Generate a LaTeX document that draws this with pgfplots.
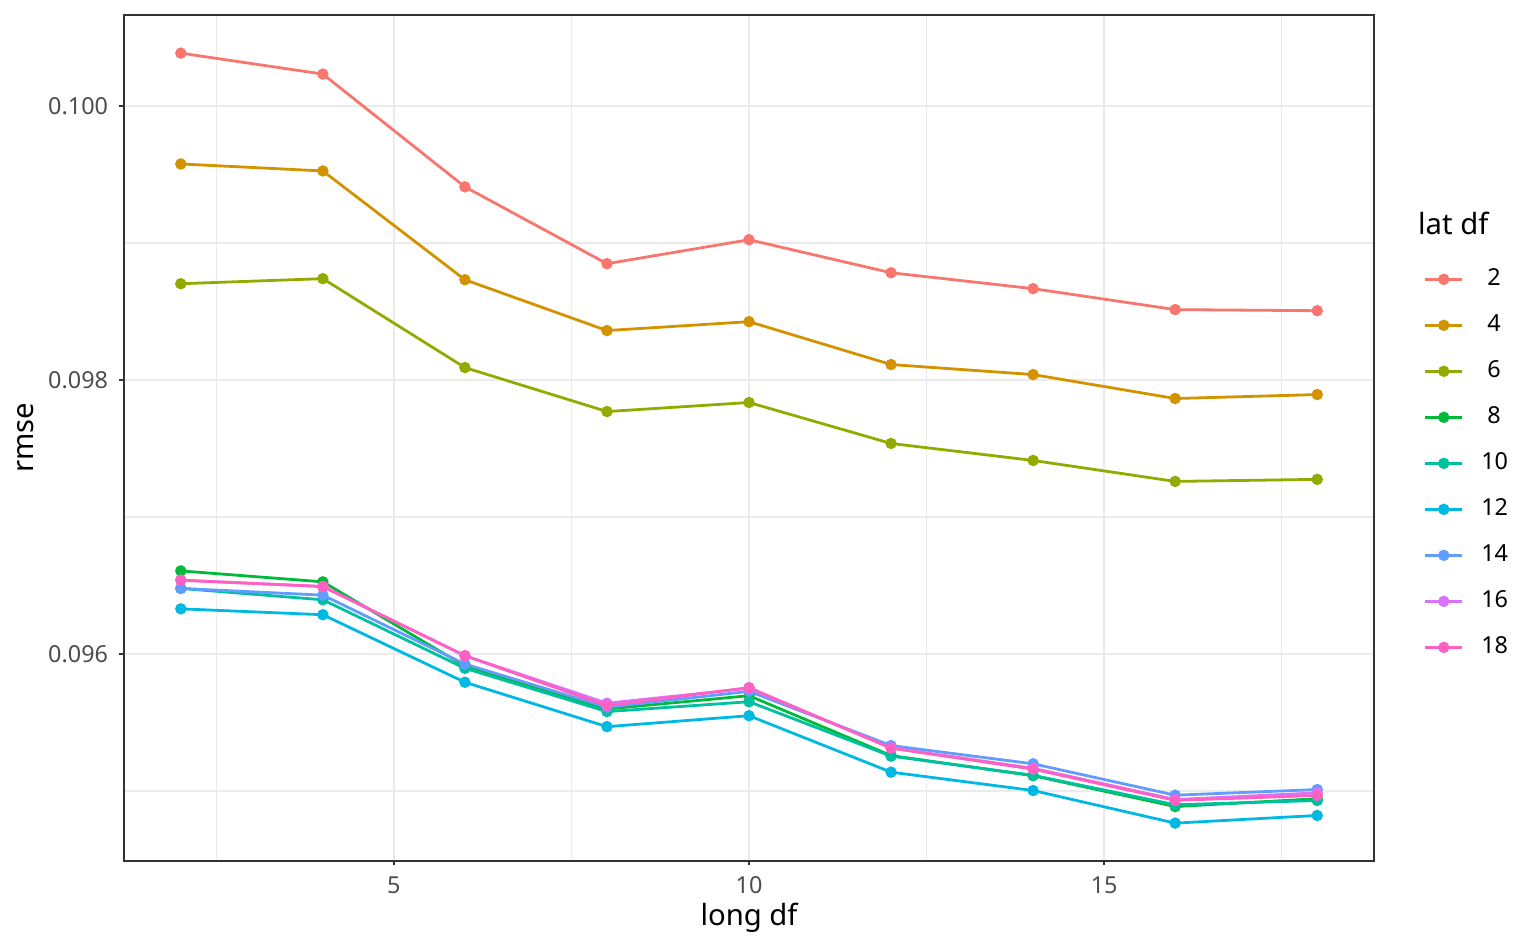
\documentclass[border=0pt]{standalone}
\usepackage{pgfplots}
\pgfplotsset{compat=1.18}
\usepackage{pgfplotstable}
\usepackage{fontspec}
\setmainfont{Noto Sans}
\definecolor{c2}{HTML}{F8766D}
\definecolor{c4}{HTML}{D39200}
\definecolor{c6}{HTML}{93AA00}
\definecolor{c8}{HTML}{00BA38}
\definecolor{c10}{HTML}{00C19F}
\definecolor{c12}{HTML}{00B9E3}
\definecolor{c14}{HTML}{619CFF}
\definecolor{c16}{HTML}{DB72FB}
\definecolor{c18}{HTML}{FF61C3}
\definecolor{grid}{HTML}{EBEBEB}
\definecolor{g20}{HTML}{333333}
\definecolor{g30}{HTML}{4D4D4D}
\pgfplotstableread{
x  l2       l4       l6       l8       l10      l12      l14      l16      l18
2  0.100386 0.099577 0.098703 0.096607 0.096479 0.096330 0.096479 0.096539 0.096539
4  0.100233 0.099526 0.098740 0.096527 0.096396 0.096287 0.096430 0.096493 0.096493
6  0.099410 0.098732 0.098091 0.095912 0.095896 0.095794 0.095927 0.095988 0.095988
8  0.098849 0.098361 0.097770 0.095599 0.095580 0.095470 0.095612 0.095641 0.095623
10 0.099024 0.098426 0.097836 0.095696 0.095652 0.095550 0.095728 0.095750 0.095755
12 0.098783 0.098113 0.097537 0.095259 0.095255 0.095138 0.095332 0.095316 0.095313
14 0.098667 0.098040 0.097413 0.095112 0.095115 0.095004 0.095199 0.095166 0.095160
16 0.098514 0.097865 0.097260 0.094887 0.094900 0.094766 0.094970 0.094938 0.094932
18 0.098506 0.097894 0.097275 0.094944 0.094931 0.094822 0.095011 0.094987 0.094968
}\datatable
\begin{document}
\begin{tikzpicture}
\path[use as bounding box] (-46.62pt,-33.09pt) rectangle (530.9pt,323.7pt);
\begin{axis}[
  at={(0pt,0pt)}, anchor=south west,
  scale only axis, width=470pt, height=318.1pt,
  xmin=1.2, xmax=18.8, ymin=0.09449, ymax=0.100665,
  xtick={5,10,15}, minor xtick={2.5,7.5,12.5,17.5},
  ytick={0.096,0.098,0.100}, minor ytick={0.095,0.097,0.099},
  scaled y ticks=false,
  /pgf/number format/assume math mode=true,
  yticklabel style={/pgf/number format/fixed, /pgf/number format/fixed zerofill, /pgf/number format/precision=3},
  grid=both,
  major grid style={draw=grid, line width=0.85pt},
  minor grid style={draw=grid, line width=0.45pt},
  axis line style={draw=g20, line width=0.5pt},
  tick align=outside, tick pos=left,
  major tick length=1.7pt, minor tick length=0pt,
  tick style={draw=g20, line width=0.5pt},
  ticklabel style={font=\fontsize{8.8}{10}\selectfont, text=g30, inner sep=0pt},
  xticklabel style={anchor=north, yshift=-3.9pt},
  yticklabel style={anchor=east, xshift=-4.1pt},
  xlabel={long df}, ylabel={rmse},
  label style={font=\fontsize{11}{13}\selectfont, inner sep=0pt},
  xlabel style={at={(axis description cs:0.5,-0.07639)}, anchor=base},
  ylabel style={at={(axis description cs:-0.07277,0.5)}, anchor=base},
  every axis plot/.append style={line width=1.05pt, mark=*, mark size=1.6pt},
  legend image code/.code={\draw[mark repeat=2,mark phase=2,#1] plot coordinates {(0pt,0pt) (6.9pt,0pt) (13.8pt,0pt)};},
  legend cell align=left,
  legend style={draw=none, fill=none, at={(1.04,0.7147)}, anchor=north west,
    inner sep=0pt, outer sep=0pt, column sep=6.7pt, row sep=0pt,
    nodes={inner sep=0pt, minimum height=17.3pt, font=\fontsize{8.8}{10}\selectfont, text=black}},
]
\addplot[c2, mark options={fill=c2}] table[x=x, y=l2] {\datatable};
\addlegendentry{\hspace*{0.26em}2}
\addplot[c4, mark options={fill=c4}] table[x=x, y=l4] {\datatable};
\addlegendentry{\hspace*{0.26em}4}
\addplot[c6, mark options={fill=c6}] table[x=x, y=l6] {\datatable};
\addlegendentry{\hspace*{0.26em}6}
\addplot[c8, mark options={fill=c8}] table[x=x, y=l8] {\datatable};
\addlegendentry{\hspace*{0.26em}8}
\addplot[c10, mark options={fill=c10}] table[x=x, y=l10] {\datatable};
\addlegendentry{10}
\addplot[c12, mark options={fill=c12}] table[x=x, y=l12] {\datatable};
\addlegendentry{12}
\addplot[c14, mark options={fill=c14}] table[x=x, y=l14] {\datatable};
\addlegendentry{14}
\addplot[c16, mark options={fill=c16}] table[x=x, y=l16] {\datatable};
\addlegendentry{16}
\addplot[c18, mark options={fill=c18}] table[x=x, y=l18] {\datatable};
\addlegendentry{18}
\end{axis}
\node[anchor=base west, inner sep=0pt, font=\fontsize{11}{13}\selectfont] at (486.4pt,235.4pt) {lat df};
\end{tikzpicture}
\end{document}
